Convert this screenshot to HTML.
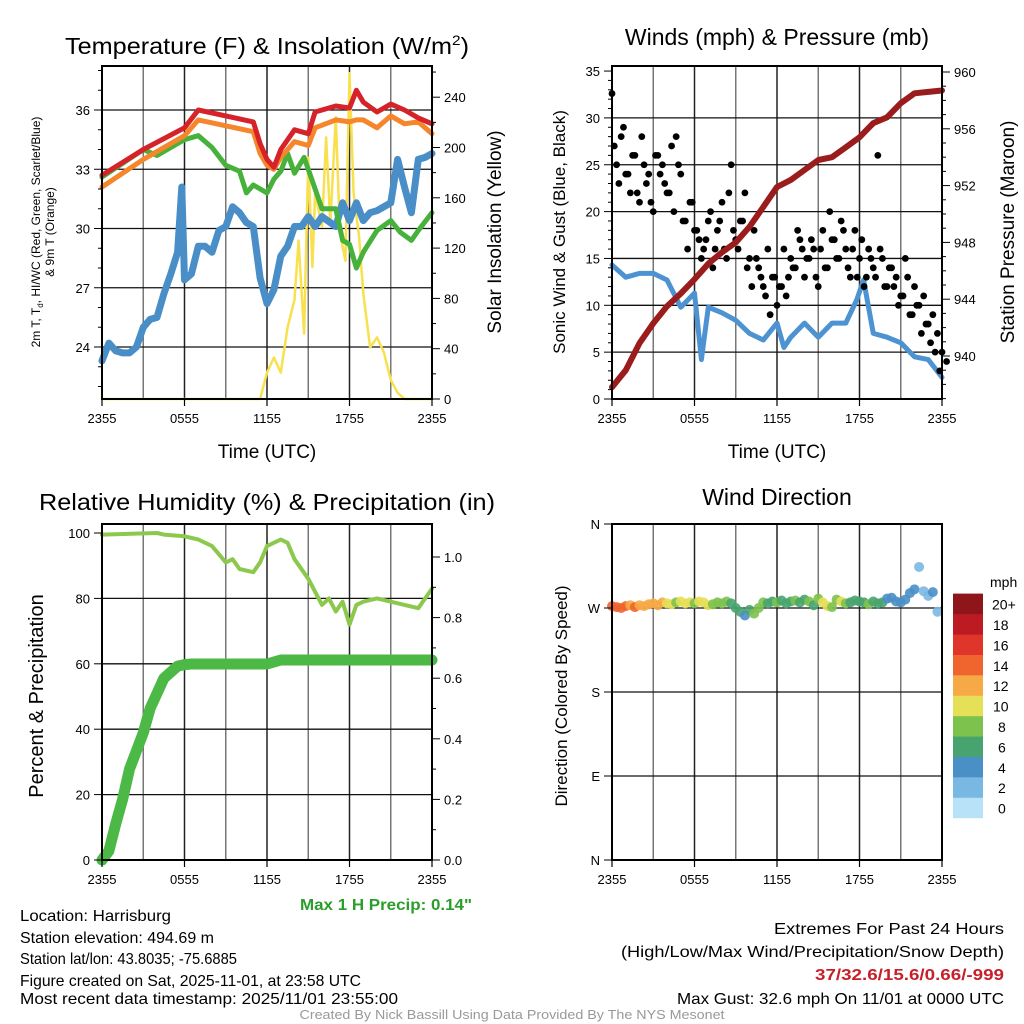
<!DOCTYPE html>
<html><head><meta charset="utf-8"><style>
html,body{margin:0;padding:0;background:#fff}
svg{display:block;font-family:"Liberation Sans",sans-serif}
</style></head><body>
<svg id="s" width="1024" height="1024" viewBox="0 0 1024 1024">
<g id="grids"></g><g id="marks"></g><g id="axes"></g>
<g id="texts" fill="#000">
<text x="267" y="54" font-size="23" text-anchor="middle" textLength="404" lengthAdjust="spacingAndGlyphs">Temperature (F) &amp; Insolation (W/m<tspan dy="-9" font-size="14">2</tspan><tspan dy="9">)</tspan></text>
<text x="777" y="45" font-size="23" text-anchor="middle">Winds (mph) &amp; Pressure (mb)</text>
<text x="267" y="510" font-size="23" text-anchor="middle" textLength="456" lengthAdjust="spacingAndGlyphs">Relative Humidity (%) &amp; Precipitation (in)</text>
<text x="777" y="505" font-size="23" text-anchor="middle">Wind Direction</text>
<text x="267" y="458" font-size="19" text-anchor="middle">Time (UTC)</text>
<text x="777" y="458" font-size="19" text-anchor="middle">Time (UTC)</text>
<text transform="translate(40,232) rotate(-90)" font-size="12" text-anchor="middle">2m T, T<tspan font-size="8" dy="3">d</tspan><tspan dy="-3">, HI/WC (Red, Green, Scarlet/Blue)</tspan></text>
<text transform="translate(54,232) rotate(-90)" font-size="12" text-anchor="middle">&amp; 9m T (Orange)</text>
<text transform="translate(501,232) rotate(-90)" font-size="19" text-anchor="middle">Solar Insolation (Yellow)</text>
<text transform="translate(565,232) rotate(-90)" font-size="17" text-anchor="middle">Sonic Wind &amp; Gust (Blue, Black)</text>
<text transform="translate(1014,232) rotate(-90)" font-size="19" text-anchor="middle">Station Pressure (Maroon)</text>
<text transform="translate(43,696) rotate(-90)" font-size="20" text-anchor="middle">Percent &amp; Precipitation</text>
<text transform="translate(567,696) rotate(-90)" font-size="17" text-anchor="middle">Direction (Colored By Speed)</text>
<text x="990" y="587" font-size="14">mph</text>
<text x="472" y="910" font-size="16" font-weight="bold" fill="#2a9d2a" text-anchor="end" textLength="172" lengthAdjust="spacingAndGlyphs">Max 1 H Precip: 0.14"</text>
<g font-size="16">
<text x="20" y="921" textLength="151" lengthAdjust="spacingAndGlyphs">Location: Harrisburg</text>
<text x="20" y="943" textLength="194" lengthAdjust="spacingAndGlyphs">Station elevation: 494.69 m</text>
<text x="20" y="964" textLength="217" lengthAdjust="spacingAndGlyphs">Station lat/lon: 43.8035; -75.6885</text>
<text x="20" y="986" textLength="341" lengthAdjust="spacingAndGlyphs">Figure created on Sat, 2025-11-01, at 23:58 UTC</text>
<text x="20" y="1004" textLength="378" lengthAdjust="spacingAndGlyphs">Most recent data timestamp: 2025/11/01 23:55:00</text>
</g>
<g font-size="16" text-anchor="end">
<text x="1004" y="934" textLength="230" lengthAdjust="spacingAndGlyphs">Extremes For Past 24 Hours</text>
<text x="1004" y="957" textLength="383" lengthAdjust="spacingAndGlyphs">(High/Low/Max Wind/Precipitation/Snow Depth)</text>
<text x="1004" y="980" font-weight="bold" fill="#c8202a" textLength="189" lengthAdjust="spacingAndGlyphs">37/32.6/15.6/0.66/-999</text>
<text x="1004" y="1004" textLength="327" lengthAdjust="spacingAndGlyphs">Max Gust: 32.6 mph On 11/01 at 0000 UTC</text>
</g>
<text x="512" y="1019" font-size="13" fill="#999" text-anchor="middle" textLength="425" lengthAdjust="spacingAndGlyphs">Created By Nick Bassill Using Data Provided By The NYS Mesonet</text>
</g>
</svg>
<script>
// ---- data ----
const tempHours=[0,3,6,7,9,11,11.5,12,12.5,13,14,15,15.5,17,18,18.5,19,20,21,22,23,24];
const tempRed=[32.7,34.0,35.1,36.0,35.7,35.4,34.3,33.5,33.1,34.0,35.0,34.8,35.9,36.2,36.1,37.0,36.4,35.9,36.3,36.0,35.6,35.3];
const tempOrange=[32.1,33.5,34.7,35.5,35.2,34.9,33.8,33.2,33.0,33.6,34.4,34.2,35.1,35.5,35.4,35.5,35.5,35.1,35.7,35.3,35.4,34.8];
const greenHours=[0,3,4,5,6,7,8,9,10,10.5,11,12,12.5,13,13.5,14,14.7,15,16,17,17.5,18,18.5,19,20,21,21.7,22.5,23,24];
const tempGreen=[32.6,34.0,33.7,34.1,34.5,34.7,34.1,33.2,32.9,31.8,32.2,31.8,32.5,32.9,33.8,32.8,33.6,33.0,31.0,31.0,29.4,29.2,28.0,28.8,29.9,30.4,29.8,29.4,29.9,30.8];
const blueHours=[0,0.5,1,1.5,2,2.5,3,3.5,4,4.5,5,5.5,5.8,6,6.5,7,7.5,8,8.5,9,9.5,10,10.5,11,11.5,12,12.5,13,13.5,14,14.5,15,15.5,16,17,17.5,18,18.5,19,19.5,20,21,21.5,22,22.5,23,23.5,24];
const tempBlue=[23.3,24.2,23.8,23.7,23.7,24.0,25.0,25.4,25.5,26.7,27.7,28.8,32.1,27.4,27.7,29.1,29.1,28.8,29.9,30.1,31.1,30.8,30.3,30.1,27.5,26.2,26.9,28.6,29.1,30.1,30.1,30.6,30.1,30.6,30.1,31.3,30.4,31.3,30.4,30.8,30.9,31.3,33.5,32.1,30.8,33.5,33.6,33.8];
const solarHours=[0,11.5,12,12.5,13,13.5,14,14.3,14.7,15,15.3,15.5,16,16.3,16.6,17,17.3,17.7,18,18.3,18.7,19,19.5,20,20.5,21,21.5,22,24];
const solarVals=[0,0,21,33,21,57,79,126,52,192,105,164,137,208,140,224,132,110,259,164,129,84,41,49,37,15,5,0,0];
const presHours=[0,1,2,3,4,5,6,7,8,9,10,11,12,13,14,15,16,17,18,19,20,21,22,23,24];
const presVals=[937.8,939.0,940.9,942.3,943.5,944.4,945.4,946.5,947.3,948.0,949.1,950.5,951.9,952.4,953.1,953.8,954.0,954.7,955.4,956.4,956.8,957.8,958.5,958.6,958.7];
const windHours=[0,1,2,3,4,5,6,6.5,7,8,9,10,11,12,12.5,13,14,15,16,17,17.8,18.3,19,20,21,22,23,24];
const windVals=[14.3,13,13.4,13.4,12.7,9.8,11.3,4.2,9.8,9.2,8.4,7.0,6.3,8.1,5.5,6.6,8.1,6.6,8.1,8.1,10.6,12.7,7.0,6.6,6.0,4.5,4.2,2.3];
const gustVals=[32.6,25,28,24,22,26,21,25,24,20,26,25,22,27,28,24,19,21,18,17,16,19,14,18,21,15,25,17,19,22,15,18,14,12,16,13,10,12,11,15,14,17,13,15,16,12,18,14,17,15,19,16,13,18,15,12,16,14,26,15,12,14,13,11,15,9,12,10,11,8,9,7,5,4];
const gustVals2=[27,23,29,24,26,22,28,23,21,26,24,23,22,20,25,19,16,21,18,15,17,20,16,19,16,22,18,16,19,14,12,15,13,11,9,13,12,16,13,14,18,16,15,17,13,16,14,20,17,15,18,14,16,13,17,13,15,13,16,12,14,12,10,11,13,9,10,7,8,6,5,3];
const rhHours=[0,4,4.5,6,7,8,9,9.5,10,11,11.5,12,13,13.5,14,15,16,16.5,17,17.5,18,18.5,19,20,21,22,23,24];
const rhVals=[99.5,100,99.5,99,98,96,91,92,89,88,91,96,98,97,92,86,78,80,76,79,72,78,79,80,79,78,77,83];
const precipHours=[0,0.5,1,1.5,2,2.5,3,3.5,4,4.5,5,5.5,6,6.5,12,13,24];
const precipVals=[0,0.03,0.12,0.2,0.3,0.36,0.42,0.5,0.55,0.6,0.62,0.64,0.645,0.647,0.647,0.66,0.66];
const dirVals=[272,271,270,272,273,271,273,272,274,275,273,276,275,274,276,277,275,276,275,277,276,273,274,276,275,277,275,270,266,262,268,264,270,276,275,277,276,278,275,277,278,276,279,277,273,280,276,272,271,279,277,275,276,278,277,276,274,277,275,276,280,281,277,276,279,286,290,314,288,283,287,266];
const dirSpeed=[14,15,14,14,13,14,13,13,12,13,12,13,10,11,9,10,10,11,9,10,11,10,9,8,9,8,7,7,6,5,7,8,8,9,7,7,8,7,6,7,8,7,6,8,7,9,10,10,9,9,11,8,7,7,6,7,8,7,6,6,5,4,5,4,5,4,4,3,3,2,4,3];
const cbLabels=['0','2','4','6','8','10','12','14','16','18','20+'];
const cbColors=['#b8e2f7','#7ab8e4','#4a8fc6','#48a46e','#7dc24c','#e6df58','#f6a945','#f0642d','#df352a','#bd1b24','#8e151a'];

// ---- helpers ----
const NS='http://www.w3.org/2000/svg';
function mk(parent,tag,attrs){const e=document.createElementNS(NS,tag);for(const k in attrs)e.setAttribute(k,attrs[k]);document.getElementById(parent).appendChild(e);return e;}
function P(x0,x1,y0,y1){return{x0,x1,y0,y1,x:h=>x0+(x1-x0)*h/24};}
const p1=P(102,432,66,399),p2=P(612,942,66,399),p3=P(102,432,524,860),p4=P(612,942,524,860);
const yT=v=>347-(v-24)*19.75, yS=v=>399-v*1.2575;
const yW=v=>399-v*9.37, yP=v=>356-(v-940)*14.2;
const yRH=v=>860-v*3.27, yPr=v=>860-v*303;
const yD=v=>860-v*0.9333;
const xTicks=['2355','0555','1155','1755','2355'];

function frame(p,name){
  for(let h=3;h<24;h+=3){const l=mk('grids','line',{x1:p.x(h),x2:p.x(h),y1:p.y0,y2:p.y1,stroke:(h%6?'#777':'#222'),'stroke-width':1.5});
  
  }
  const r=mk('axes','rect',{x:p.x0,y:p.y0,width:p.x1-p.x0,height:p.y1-p.y0,fill:'none',stroke:'#000','stroke-width':2});
  
  
  xTicks.forEach((t,i)=>{const x=p.x(i*6);
    mk('axes','line',{x1:x,x2:x,y1:p.y1,y2:p.y1+7,stroke:'#000','stroke-width':1.2});
    const tx=mk('axes','text',{x:x,y:p.y1+24,'font-size':13,'text-anchor':'middle'});tx.textContent=t;
    
    });
}
function hgrid(p,y,name){const l=mk('grids','line',{x1:p.x0,x2:p.x1,y1:y,y2:y,stroke:'#111','stroke-width':1.3});
  
  }
function ltick(p,y,label,major,name){mk('axes','line',{x1:p.x0-(major?8:4),x2:p.x0,y1:y,y2:y,stroke:'#000','stroke-width':1});
  if(label!==null){const t=mk('axes','text',{x:p.x0-12,y:y+5,'font-size':13,'text-anchor':'end'});t.textContent=label;
  
  }}
function rtick(p,y,label,major,name){mk('axes','line',{x1:p.x1,x2:p.x1+(major?8:4),y1:y,y2:y,stroke:'#000','stroke-width':1});
  if(label!==null){const t=mk('axes','text',{x:p.x1+12,y:y+5,'font-size':13,'text-anchor':'start'});t.textContent=label;
  
  }}
function line(p,hs,vs,fy,color,w,name){const d=hs.map((h,i)=>(i?'L':'M')+p.x(h).toFixed(1)+','+fy(vs[i]).toFixed(1)).join('');
  const e=mk('marks','path',{d:d,fill:'none',stroke:color,'stroke-width':w,'stroke-linejoin':'round','stroke-linecap':'round'});
  
  }

// panel 1
frame(p1,'temp');
for(let v=22;v<=38;v++){const y=yT(v);if(y<p1.y0||y>p1.y1)continue;const maj=(v%3===0);if(maj)hgrid(p1,y,'temp');ltick(p1,y,maj?String(v):null,maj,'temp');}
for(let v=0;v<=260;v+=20){rtick(p1,yS(v),v%40===0&&v<=240?String(v):null,v%40===0,'insolation');}
line(p1,solarHours,solarVals,yS,'#f8e04e',2.5,'insolation-line');
line(p1,blueHours,tempBlue,yT,'#4a8ec8',7,'dewpoint-line');
line(p1,greenHours,tempGreen,yT,'#46b23c',5,'heat-index-line');
line(p1,tempHours,tempOrange,yT,'#f6862c',5,'temp-9m-line');
line(p1,tempHours,tempRed,yT,'#d6232a',5,'temp-2m-line');

// panel 2
frame(p2,'wind');
for(let v=0;v<=35;v++){const y=yW(v);const maj=v%5===0;if(maj&&v>0&&v<35)hgrid(p2,y,'wind');ltick(p2,y,maj?String(v):null,maj,'wind');}
for(let v=937;v<=960;v++){const y=yP(v);if(y>p2.y1||y<p2.y0-2)continue;rtick(p2,y,v%4===0?String(v):null,v%4===0,'pressure');}
line(p2,windHours,windVals,yW,'#4d93d2',5,'sonic-wind-line');
gustVals.forEach((g,i)=>{const c=mk('marks','circle',{cx:p2.x(i/3),cy:yW(g),r:3.4,fill:'#000'});
  
  });
gustVals2.forEach((g,i)=>{const c=mk('marks','circle',{cx:p2.x(i/3+1/6),cy:yW(g),r:3.4,fill:'#000'});
  
  });
line(p2,presHours,presVals,yP,'#9b1c1c',6,'pressure-line');

// panel 3
frame(p3,'rh');
for(let v=0;v<=100;v+=20){const y=yRH(v);if(v>0&&v<100)hgrid(p3,y,'rh');ltick(p3,y,String(v),true,'rh');}
for(let v=0;v<=10;v++){const y=yPr(v/10);rtick(p3,y,v%2===0?(v/10).toFixed(1):null,v%2===0,'precip');}
line(p3,rhHours,rhVals,yRH,'#8cc84b',4,'rh-line');
line(p3,precipHours,precipVals,yPr,'#4cb946',11,'precip-line');

// panel 4
frame(p4,'dir');
[['N',0],['E',90],['S',180],['W',270],['N',360]].forEach(([l,d])=>{const y=yD(d);if(d>0&&d<360)hgrid(p4,y,'dir');ltick(p4,y,l,true,'dir');});
dirVals.forEach((d,i)=>{const k=Math.min(10,Math.floor(dirSpeed[i]/2));
  const c=mk('marks','circle',{cx:p4.x(i/3),cy:yD(d),r:5,fill:cbColors[k],opacity:0.9});
  
  });
// colorbar
cbLabels.forEach((l,i)=>{const y=818-(i+1)*20.4;
  const r=mk('marks','rect',{x:953,y:y,width:30,height:20.6,fill:cbColors[i]});
  
  
  const t=mk('texts','text',{x:l.length>2?992:(l.length>1?993:998),y:y+16,'font-size':14});t.textContent=l;
  
  });
</script>
</body></html>
